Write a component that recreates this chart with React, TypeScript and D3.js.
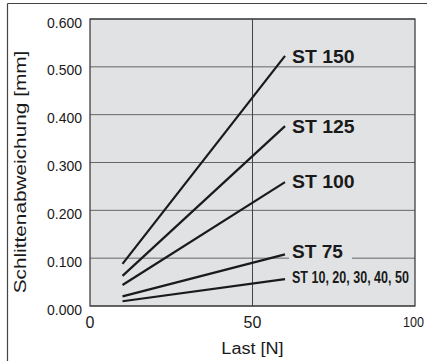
import React from "react";
import * as d3 from "d3";

const loads = [10, 60];
const seriesNames = ["ST 150", "ST 125", "ST 100", "ST 75", "ST 10, 20, 30, 40, 50"];
const st150 = [0.088, 0.523];
const st125 = [0.063, 0.376];
const st100 = [0.044, 0.259];
const st75 = [0.02, 0.108];
const st10to50 = [0.01, 0.056];
const seriesValues = [st150, st125, st100, st75, st10to50];
const yTicks = [0, 0.1, 0.2, 0.3, 0.4, 0.5, 0.6];
const xTicks = [0, 50, 100];
const xTitle = "Last [N]";
const yTitle = "Schlittenabweichung [mm]";

const W = 427;
const H = 361;
const plot = { left: 90, right: 415, top: 19, bottom: 306 };
const BG = "#e1e2e3";
const INK = "#1a1a1a";

export default function App() {
  const x = d3.scaleLinear().domain([0, 100]).range([plot.left, plot.right]);
  const y = d3.scaleLinear().domain([0, 0.6]).range([plot.bottom, plot.top]);
  const line = d3
    .line<[number, number]>()
    .x((d) => x(d[0]))
    .y((d) => y(d[1]));

  // sx: horizontal condensing of the label glyphs
  const labelStyle = [
    { size: 18, sx: 1.08, w: 63, dy: 7 },
    { size: 18, sx: 1.08, w: 63, dy: 7 },
    { size: 18, sx: 1.08, w: 63, dy: 6 },
    { size: 18, sx: 1.06, w: 51, dy: 4 },
    { size: 17, sx: 0.737, w: 117, dy: 4 },
  ];

  return (
    <svg
      width={W}
      height={H}
      style={{ position: "absolute", left: 0, top: 0, background: "#fff" }}
      fontFamily="Liberation Sans, Arial, sans-serif"
    >
      {/* outer frame */}
      <line x1={7.5} y1={3.5} x2={W} y2={3.5} stroke="#444" strokeWidth={1.2} />
      <line x1={7.5} y1={3.5} x2={7.5} y2={H} stroke="#444" strokeWidth={1.2} />

      {/* plot background */}
      <rect
        x={plot.left}
        y={plot.top}
        width={plot.right - plot.left}
        height={plot.bottom - plot.top}
        fill={BG}
      />

      {/* horizontal gridlines */}
      {yTicks.map((t) => (
        <line
          key={"g" + t}
          x1={plot.left}
          x2={plot.right}
          y1={y(t)}
          y2={y(t)}
          stroke="#666"
          strokeWidth={1}
        />
      ))}
      {/* vertical gridline */}
      {xTicks
        .filter((t) => t > 0 && t < 100)
        .map((t) => (
          <line
            key={"v" + t}
            x1={x(t)}
            x2={x(t)}
            y1={plot.top}
            y2={plot.bottom}
            stroke="#444"
            strokeWidth={1}
          />
        ))}

      {/* y tick labels */}
      {yTicks.map((t) => (
        <text
          key={"yl" + t}
          x={plot.left - 8}
          y={y(t) + 8.5}
          textAnchor="end"
          fontSize={14}
          fill={INK}
        >
          {t.toFixed(3)}
        </text>
      ))}

      {/* x tick labels */}
      {xTicks.map((t) =>
        t === 100 ? (
          <text
            key={"xl" + t}
            transform={`translate(${x(t) - 12},${plot.bottom + 21}) scale(0.9,1)`}
            fontSize={14}
            fill={INK}
          >
            {t}
          </text>
        ) : (
          <text
            key={"xl" + t}
            x={x(t)}
            y={plot.bottom + 22}
            textAnchor="middle"
            fontSize={16}
            fill={INK}
          >
            {t}
          </text>
        )
      )}

      {/* axis titles */}
      <text
        transform={`translate(${x(50)},354) scale(1.13,1)`}
        textAnchor="middle"
        fontSize={16}
        fill={INK}
      >
        {xTitle}
      </text>
      <text
        transform={`translate(26,${172}) rotate(-90) scale(1.3,1)`}
        textAnchor="middle"
        fontSize={16}
        fill={INK}
      >
        {yTitle}
      </text>

      {/* series lines */}
      {seriesValues.map((vals, i) => (
        <path
          key={"s" + i}
          d={line(loads.map((l, j) => [l, vals[j]] as [number, number])) || ""}
          fill="none"
          stroke={INK}
          strokeWidth={2.2}
        />
      ))}

      {/* series labels */}
      {seriesValues.map((vals, i) => {
        const st = labelStyle[i];
        const lx = x(loads[1]) + 7;
        const ly = y(vals[1]) + st.dy;
        const rw = Math.min(st.w + 12, plot.right - 1 - (lx - 3));
        return (
          <g key={"lab" + i}>
            <rect x={lx - 3} y={ly - st.size * 0.8} width={rw} height={st.size * 0.95} fill={BG} />
            <text
              transform={`translate(${lx},${ly}) scale(${st.sx},1)`}
              fontSize={st.size}
              fontWeight={700}
              fill={INK}
            >
              {seriesNames[i]}
            </text>
          </g>
        );
      })}

      {/* plot border */}
      <rect
        x={plot.left}
        y={plot.top}
        width={plot.right - plot.left}
        height={plot.bottom - plot.top}
        fill="none"
        stroke="#333"
        strokeWidth={1.2}
      />
    </svg>
  );
}
